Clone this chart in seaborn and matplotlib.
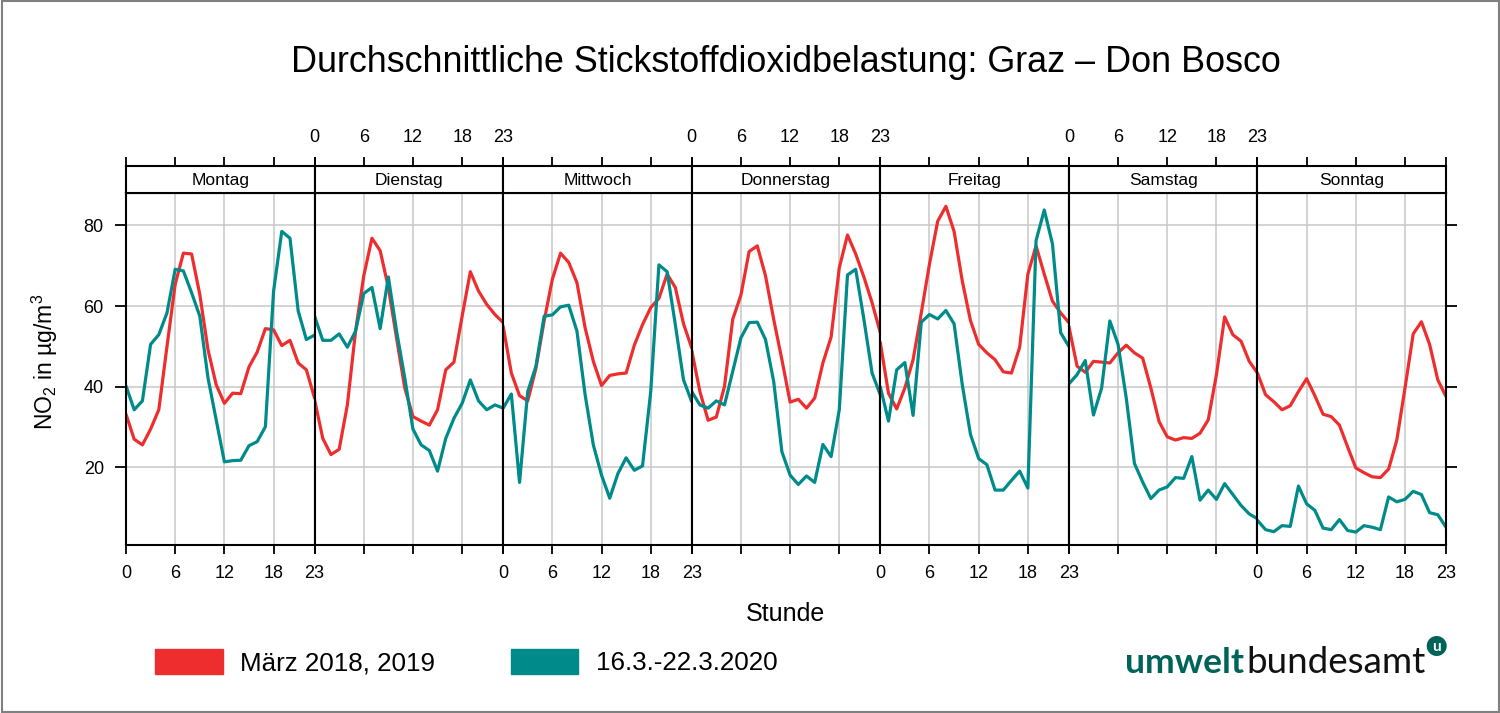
import matplotlib
matplotlib.use("Agg")
import pandas as pd
import matplotlib.pyplot as plt
from matplotlib.patches import Patch, Circle, Rectangle
import seaborn as sns

# Wochentage und Stunden
tage = ["Montag", "Dienstag", "Mittwoch", "Donnerstag", "Freitag", "Samstag", "Sonntag"]
stunden = list(range(24))
stunden_ticks = [0, 6, 12, 18, 23]

# Mittelwerte März 2018, 2019 (µg/m³)
maerz_montag = [33.2, 27.0, 25.6, 29.5, 34.3, 50.0, 65.4, 73.1, 72.9, 62.9, 49.2, 40.5,
                35.9, 38.4, 38.3, 44.9, 48.6, 54.4, 54.1, 50.2, 51.5, 45.9, 44.2, 37.2]
maerz_dienstag = [36.8, 27.2, 23.2, 24.5, 35.5, 53.8, 67.5, 76.8, 73.7, 64.6, 52.1, 39.7,
                  32.6, 31.5, 30.5, 34.3, 44.2, 46.1, 57.5, 68.5, 63.7, 60.4, 57.9, 55.9]
maerz_mittwoch = [55.0, 43.4, 37.8, 36.5, 44.6, 56.3, 66.6, 73.1, 70.8, 65.8, 54.6, 46.3,
                  40.3, 42.8, 43.2, 43.4, 50.3, 55.4, 59.6, 61.9, 67.9, 64.6, 55.6, 49.6]
maerz_donnerstag = [49.0, 38.8, 31.7, 32.5, 40.1, 56.7, 62.7, 73.5, 74.9, 67.5, 56.7, 46.7,
                    36.2, 36.9, 34.7, 37.2, 45.9, 52.3, 69.5, 77.6, 72.9, 67.2, 60.8, 53.4]
maerz_freitag = [51.0, 38.4, 34.5, 39.7, 46.7, 58.3, 70.4, 81.0, 84.7, 78.5, 66.2, 56.4,
                 50.5, 48.4, 46.7, 43.7, 43.4, 49.8, 67.9, 74.9, 67.9, 61.2, 58.3, 55.9]
maerz_samstag = [55.0, 45.1, 43.6, 46.3, 46.1, 45.9, 48.4, 50.3, 48.4, 47.1, 39.7, 31.4,
                 27.6, 26.8, 27.4, 27.2, 28.5, 31.8, 43.0, 57.3, 52.9, 51.3, 46.3, 43.4]
maerz_sonntag = [43.4, 38.0, 36.3, 34.3, 35.3, 38.8, 42.0, 37.8, 33.2, 32.6, 30.5, 25.1,
                 19.9, 18.7, 17.7, 17.5, 19.6, 26.8, 39.7, 53.1, 56.1, 50.5, 41.7, 37.6]

# Woche 16.3.-22.3.2020 (µg/m³)
corona_montag = [40.2, 34.3, 36.5, 50.5, 52.9, 58.3, 69.1, 68.7, 63.3, 57.5, 42.2, 31.8,
                 21.4, 21.7, 21.8, 25.4, 26.4, 30.1, 63.7, 78.5, 76.8, 58.8, 51.7, 52.8]
corona_dienstag = [57.5, 51.5, 51.5, 53.1, 49.8, 53.8, 63.1, 64.6, 54.4, 67.2, 53.8, 42.2,
                   29.5, 25.6, 24.2, 19.1, 27.2, 32.2, 35.9, 41.7, 36.5, 34.3, 35.5, 34.7]
corona_mittwoch = [34.7, 38.2, 16.3, 38.8, 45.1, 57.5, 57.8, 59.8, 60.2, 53.8, 38.0, 25.6,
                   18.1, 12.4, 18.5, 22.4, 19.3, 20.4, 38.8, 70.2, 68.5, 55.4, 41.7, 36.3]
corona_donnerstag = [38.8, 35.5, 34.7, 36.5, 35.5, 43.8, 52.1, 55.9, 56.0, 51.7, 41.3, 23.9,
                     18.1, 15.8, 17.9, 16.3, 25.7, 22.7, 34.3, 67.7, 69.1, 56.7, 43.4, 38.0]
corona_freitag = [40.0, 31.5, 44.2, 46.0, 32.9, 56.0, 57.9, 56.8, 58.9, 55.6, 40.5, 28.2,
                  22.2, 20.7, 14.4, 14.4, 16.8, 19.1, 14.9, 76.2, 83.8, 75.4, 53.4, 50.0]
corona_samstag = [40.7, 43.0, 46.5, 33.0, 39.7, 56.3, 50.5, 37.2, 21.0, 16.4, 12.3, 14.4,
                  15.2, 17.5, 17.3, 22.7, 11.9, 14.4, 12.1, 16.0, 13.3, 10.6, 8.5, 7.3]
corona_sonntag = [6.9, 4.6, 4.1, 5.6, 5.4, 15.4, 11.0, 9.4, 5.0, 4.6, 7.1, 4.4,
                  4.0, 5.6, 5.2, 4.6, 12.7, 11.5, 12.1, 14.1, 13.3, 8.8, 8.3, 5.2]

zeitraeume = ["März 2018, 2019", "16.3.-22.3.2020"]
farben = {"März 2018, 2019": "#ee2e2e", "16.3.-22.3.2020": "#008b8b"}

maerz = [maerz_montag, maerz_dienstag, maerz_mittwoch, maerz_donnerstag,
         maerz_freitag, maerz_samstag, maerz_sonntag]
corona = [corona_montag, corona_dienstag, corona_mittwoch, corona_donnerstag,
          corona_freitag, corona_samstag, corona_sonntag]

# Long-Format für seaborn
zeilen = []
for tag, w_alt, w_neu in zip(tage, maerz, corona):
    for h in stunden:
        zeilen.append({"Tag": tag, "Stunde": h, "NO2": w_alt[h], "Zeitraum": zeitraeume[0]})
        zeilen.append({"Tag": tag, "Stunde": h, "NO2": w_neu[h], "Zeitraum": zeitraeume[1]})
df = pd.DataFrame(zeilen)

sns.set_theme(style="white")
plt.rcParams["font.family"] = ["Liberation Sans", "DejaVu Sans"]
plt.rcParams["text.color"] = "black"
plt.rcParams["mathtext.fontset"] = "custom"
plt.rcParams["mathtext.rm"] = "Liberation Sans"
plt.rcParams["mathtext.it"] = "Liberation Sans:italic"

fig = plt.figure(figsize=(15, 7.13), dpi=100)

# Panel-Geometrie (Figure-Anteile)
links = 126 / 1500
breite = 1320 / 1500 / 7
unten = 1 - 545 / 713
hoehe = (545 - 193) / 713
streifen_unten = 1 - 193 / 713
streifen_hoehe = 27 / 713

for i, tag in enumerate(tage):
    x0 = links + i * breite
    ax = fig.add_axes([x0, unten, breite, hoehe])
    sns.lineplot(data=df[df["Tag"] == tag], x="Stunde", y="NO2", hue="Zeitraum",
                 hue_order=zeitraeume, palette=farben, linewidth=2.3, ax=ax, legend=False)
    ax.set_xlim(0, 23)
    ax.set_ylim(0.8, 88)
    ax.set_xticks(stunden_ticks)
    ax.set_yticks([20, 40, 60, 80])
    ax.grid(True, color="#c8c8c8", linewidth=1.1)
    ax.set_axisbelow(True)
    ax.set_xlabel("")
    ax.set_ylabel("")
    for s in ax.spines.values():
        s.set_color("black")
        s.set_linewidth(1.5)
    ax.tick_params(axis="x", bottom=True, top=False, direction="out", length=6.5, width=1.3,
                   color="black", labelcolor="black", labelsize=13, pad=8,
                   labelbottom=(i % 2 == 0))
    ax.tick_params(axis="y", left=(i == 0), right=(i == 6), labelleft=(i == 0),
                   labelright=False, direction="out", length=8, width=1.3,
                   color="black", labelcolor="black", labelsize=13, pad=8)

    # Streifen mit Wochentag
    sx = fig.add_axes([x0, streifen_unten, breite, streifen_hoehe])
    sx.set_xlim(0, 23)
    sx.set_ylim(0, 1)
    sx.set_xticks(stunden_ticks)
    sx.set_yticks([])
    sx.set_facecolor("white")
    for s in sx.spines.values():
        s.set_color("black")
        s.set_linewidth(1.5)
    sx.tick_params(axis="x", bottom=False, top=True, labelbottom=False,
                   labeltop=(i % 2 == 1), direction="out", length=6.5, width=1.3,
                   color="black", labelcolor="black", labelsize=13, pad=8)
    sx.text(11.5, 0.45, tag, ha="center", va="center", fontsize=12.5, color="black")

fig.text(0.5237, 1 - 62 / 713, "Durchschnittliche Stickstoffdioxidbelastung: Graz – Don Bosco",
         ha="center", va="center", fontsize=25.8, color="black")
fig.text(0.5237, 1 - 614 / 713, "Stunde", ha="center", va="center", fontsize=18, color="black")
fig.text(45 / 1500, 1 - 362 / 713, r"NO$_2$ in µg/m$^3$", rotation=90,
         ha="center", va="center", fontsize=16.5, color="black")

# Legende
griffe = [Patch(facecolor=farben[z], edgecolor=farben[z]) for z in zeitraeume]
fig.legend(griffe, zeitraeume, loc="center left", bbox_to_anchor=(155 / 1500, 1 - 662 / 713),
           ncol=2, frameon=False, fontsize=18.7, handlelength=2.6, handleheight=1.15,
           handletextpad=0.68, columnspacing=2.9, borderpad=0, borderaxespad=0,
           labelcolor="black")

# Logo
logo_farbe = "#00635a"
fig.text(1244 / 1500, 1 - 673 / 713, "umwelt", ha="right", va="baseline",
         fontsize=25.5, fontweight="bold", color=logo_farbe, family=["Lato", "DejaVu Sans"])
fig.text(1246 / 1500, 1 - 673 / 713, "bundesamt", ha="left", va="baseline",
         fontsize=26.5, color="#111111", family=["Lato", "DejaVu Sans"])
fig.add_artist(Circle((14.367, 7.13 - 6.46), 0.10, transform=fig.dpi_scale_trans,
                      facecolor=logo_farbe, edgecolor="none"))
fig.text(1436.7 / 1500, 1 - 647 / 713, "u", ha="center", va="center", fontsize=11,
         fontweight="bold", color="white", family=["Lato", "DejaVu Sans"])

# Rahmen
fig.add_artist(Rectangle((0.001, 0.001), 0.998, 0.997, transform=fig.transFigure,
                         fill=False, edgecolor="#808080", linewidth=1.5))

fig.savefig("out.png", dpi=100)
